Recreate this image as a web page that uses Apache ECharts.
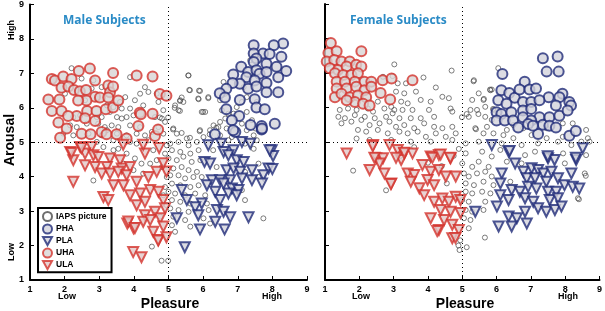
<!DOCTYPE html>
<html>
<head>
<meta charset="utf-8">
<script src="https://cdn.jsdelivr.net/npm/echarts@6/dist/echarts.min.js"></script>
<style>
  html, body { margin: 0; padding: 0; background: #fff; }
  #chart { width: 605px; height: 311px; }
</style>
</head>
<body>
<div id="chart"></div>
<script>
// [pleasure, arousal]
const maleIaps = [
  [2.20,7.15],[2.49,6.85],[2.83,6.80],[2.78,6.56],[3.07,6.60],[3.89,6.89],[4.32,6.60],[4.42,6.46],[4.66,6.41],
  [3.75,6.31],[4.03,6.22],[3.60,6.17],[4.18,6.41],[2.01,6.41],[2.59,6.22],[2.93,6.27],[3.22,6.07],[3.41,6.02],
  [3.65,5.98],[3.89,5.98],[4.27,6.07],[4.71,6.17],[4.85,5.93],[2.25,5.73],[2.45,5.78],[2.93,5.73],[3.07,5.73],
  [3.31,5.88],[3.51,5.73],[3.65,5.69],[3.79,5.73],[3.99,5.78],[4.61,5.73],[4.81,5.69],[2.16,5.49],[2.35,5.44],
  [2.64,5.54],[2.97,5.54],[3.16,5.44],[3.36,5.49],[3.55,5.44],[3.89,5.49],[4.18,5.44],[4.71,5.44],[4.90,5.59],
  [1.96,5.25],[2.25,5.20],[2.69,5.25],[3.07,5.20],[3.22,5.35],[3.51,5.25],[3.79,5.20],[4.08,5.25],[4.32,5.20],
  [4.52,5.30],[4.85,5.25],[2.93,5.01],[3.41,5.06],[3.89,5.01],[4.42,5.06],
  [5.58,6.94],[5.62,6.51],[5.91,6.49],[5.86,6.27],[6.15,6.31],[5.34,6.22],[5.43,6.17],[5.19,6.07],[5.29,5.93],
  [5.96,5.88],[6.06,5.88],[5.14,5.40],[5.24,5.25],[5.53,5.11],[5.91,5.35],[6.20,5.35],[6.44,5.44],[6.64,5.69],
  [6.73,5.83],[6.97,6.02],[7.12,6.17],[7.26,6.31],[7.36,7.38],[7.46,7.48],[7.17,6.60],[6.59,6.75],[6.64,6.41],
  [6.49,6.22],[6.54,5.93],[6.88,5.83],[7.26,5.88],[7.55,6.17],[7.41,5.64],[6.49,5.59],[6.30,5.49],[6.68,5.40],
  [7.12,5.54],[7.26,5.35],[7.51,5.40],[6.01,5.15],[6.49,5.20],[6.83,5.15],[7.46,5.20],[7.55,5.06],
  [5.05,4.96],[5.29,5.01],[5.58,4.91],[5.82,5.01],[5.10,4.77],[5.34,4.72],[5.63,4.67],[5.87,4.77],[5.00,4.53],
  [5.24,4.48],[5.43,4.58],[5.67,4.43],[5.92,4.48],[5.14,4.24],[5.38,4.28],[5.58,4.19],[5.82,4.14],[5.05,4.04],
  [5.29,4.04],[5.48,3.95],[5.72,3.99],[5.96,3.99],[5.10,3.80],[5.34,3.75],[5.63,3.70],[5.87,3.75],[5.00,3.56],
  [5.19,3.51],[5.48,3.46],[5.77,3.51],[6.06,3.46],[5.10,3.32],[5.34,3.27],[5.63,3.22],[6.11,3.22],[5.05,3.08],
  [5.29,3.03],[5.58,2.98],[6.16,3.03],[5.14,2.84],[5.48,2.74],[6.01,2.79],[5.10,2.59],[5.63,2.55],[6.20,2.64],
  [5.19,2.40],[7.74,2.79],[7.21,4.96],[7.46,4.81],[7.60,4.38],[6.73,5.06],[6.29,4.77],[6.39,4.28],[7.21,4.14],
  [7.60,3.99],[7.12,3.61],[7.21,3.32],
  [3.12,4.86],[3.41,4.77],[3.55,4.81],[3.79,4.67],[4.03,4.53],[4.22,4.38],[4.47,4.38],[4.66,4.48],[4.90,4.67],
  [4.81,4.28],[4.95,3.99],[4.90,3.70],[4.56,4.77],[4.08,4.96],[4.95,4.91],[3.70,4.38],[3.99,4.19],[4.27,4.09],
  [4.85,3.46],[4.95,3.17],[4.76,2.84],[4.52,1.97],[2.83,3.89],[4.80,1.56],[4.99,1.56],
  [5.18,6.00],[5.33,5.91],[5.57,6.94],[5.60,6.52],[5.88,6.50],[5.87,6.25],[6.15,6.28],[5.33,6.20],[5.38,6.30],
  [4.99,5.72],[4.75,5.72],[5.13,5.37],[5.38,5.27],[5.62,5.13],[6.00,5.88],[5.90,5.32],[6.19,5.23],[6.38,5.42]
];
const maleUha = [
  [1.63,6.84],[1.72,6.79],[1.96,6.91],[2.20,6.84],[2.41,7.07],[2.73,7.14],[3.40,7.01],[4.08,6.94],[4.54,6.91],
  [1.53,6.24],[1.85,6.24],[1.91,6.58],[2.11,6.62],[2.27,6.52],[2.44,6.48],[2.62,6.52],[2.88,6.79],[2.88,6.32],
  [3.02,6.30],[3.26,6.65],[3.31,6.45],[3.26,6.30],[3.40,6.62],[1.63,5.91],[1.91,5.91],[2.35,5.76],[2.65,5.91],
  [2.92,5.91],[3.19,5.96],[3.40,6.01],[3.55,6.21],[4.17,5.86],[4.54,5.83],[1.82,5.57],[2.06,5.40],[2.49,5.25],
  [2.75,5.23],[3.07,5.30],[3.21,5.23],[3.50,5.23],[3.79,5.11],[4.13,5.47],[4.20,5.81],[4.61,5.18],[4.70,5.37],
  [1.87,5.13],[4.75,6.40],[4.94,6.35],[2.88,5.62],[2.59,5.70],[2.63,6.21],[2.39,6.21],[2.10,5.76]
];
const maleUla = [
  [2.45,4.86],[2.78,4.86],[2.16,4.72],[2.59,4.67],[2.83,4.62],[2.25,4.48],[2.97,4.57],[3.31,4.53],[3.60,4.48],
  [4.32,4.67],[2.59,4.33],[2.88,4.28],[3.22,4.28],[3.65,4.24],[3.89,4.28],[3.07,4.09],[3.31,4.09],[3.55,4.14],
  [3.79,4.04],[2.25,3.85],[3.41,3.75],[3.70,3.75],[4.08,3.85],[4.42,3.99],[4.66,4.14],[3.89,3.46],[4.18,3.51],
  [4.47,3.61],[4.71,3.56],[3.12,3.41],[3.26,3.32],[4.08,3.17],[4.32,3.27],[4.85,3.32],[4.32,2.88],[4.61,2.98],
  [4.90,3.08],[4.27,2.69],[4.47,2.74],[4.76,2.79],[4.85,2.55],[4.56,2.40],[4.71,2.16],[3.81,2.64],[3.99,2.50],
  [3.98,1.81],[4.22,1.66],[4.70,2.15],[4.94,2.24],[4.94,4.15],[4.85,4.39],[3.84,2.70],[4.03,2.51],
  [2.20,4.69],[2.49,4.83],[3.69,4.93],[4.27,4.93],[4.73,4.83]
];
const malePha = [
  [7.46,7.82],[8.31,7.87],[8.04,7.82],[7.73,7.58],[7.92,7.56],[7.46,7.58],[7.54,7.43],[7.83,7.28],[8.26,7.48],
  [7.46,7.33],[8.12,7.19],[8.40,7.07],[7.10,7.19],[6.87,6.97],[7.30,7.04],[7.54,7.09],[7.63,6.99],[7.83,7.04],
  [8.17,6.89],[7.25,6.89],[7.49,6.79],[7.06,6.70],[6.85,6.72],[7.30,6.55],[7.54,6.62],[7.83,6.72],[6.67,6.55],
  [6.48,6.42],[7.83,6.45],[8.17,6.45],[7.06,6.23],[6.63,6.30],[7.49,6.25],[6.67,5.96],[7.04,5.76],[7.54,6.01],
  [7.78,5.96],[6.83,5.64],[7.37,5.50],[7.69,5.47],[7.69,5.37],[8.07,5.54],[6.93,5.30],[6.34,5.23],[6.87,5.35],
  [7.70,5.40]
];
const malePla = [
  [6.15,4.91],[6.52,4.96],[7.12,5.01],[7.36,4.96],[6.59,4.72],[6.88,4.77],[6.73,4.62],[6.04,4.43],[6.20,4.38],
  [6.97,4.48],[7.17,4.43],[7.98,4.77],[7.89,4.24],[7.74,4.04],[6.68,4.19],[6.88,4.24],[7.07,4.14],[7.41,4.19],
  [6.25,3.90],[6.49,3.90],[6.78,3.90],[7.12,3.95],[7.41,3.90],[7.70,3.80],[6.11,3.75],[6.59,3.80],[6.83,3.66],
  [7.02,3.61],[6.35,3.56],[6.73,3.51],[5.38,3.61],[5.53,3.32],[6.97,3.46],[6.49,3.32],[5.96,3.22],[5.77,3.11],
  [6.40,3.03],[6.59,2.98],[5.86,2.88],[6.78,2.82],[5.24,2.79],[7.31,2.82],[6.35,2.69],[5.91,2.47],[6.62,2.47],
  [5.47,1.95],[8.00,4.22],[8.02,4.60],[7.92,4.77]
];

const femaleIaps = [
  [3.02,7.25],[4.69,7.07],[2.69,6.89],[2.97,6.91],[3.87,6.87],[4.23,6.58],[3.12,6.70],[3.36,6.70],[3.31,6.41],
  [3.07,6.46],[3.65,6.46],[3.79,6.22],[3.22,6.17],[3.41,6.12],[2.93,6.02],[4.08,6.17],[4.42,6.31],[4.61,6.27],
  [2.54,6.17],[2.73,5.97],[3.02,5.93],[3.26,5.93],[3.55,5.93],[4.03,5.93],[4.66,5.97],[1.43,5.93],[1.67,5.97],
  [1.92,5.93],[2.25,5.97],[2.40,5.88],[1.39,5.73],[1.58,5.69],[1.87,5.78],[2.16,5.73],[2.45,5.69],[2.78,5.73],
  [2.97,5.83],[3.17,5.69],[3.50,5.69],[3.79,5.69],[4.18,5.73],[4.71,5.88],[1.48,5.54],[1.77,5.59],[2.06,5.64],
  [2.30,5.49],[2.59,5.54],[2.88,5.59],[3.07,5.44],[3.31,5.49],[3.60,5.40],[3.89,5.54],[4.18,5.44],[4.42,5.40],
  [4.71,5.44],[1.96,5.35],[2.20,5.30],[2.54,5.35],[2.83,5.25],[3.17,5.30],[3.41,5.25],[3.70,5.30],[3.94,5.15],
  [4.23,5.25],[4.52,5.15],[4.81,5.25],[1.92,5.10],[2.30,5.06],[2.93,5.06],[3.50,5.01],[4.08,5.01],[4.71,5.06],
  [4.99,5.72],[5.13,5.81],[5.33,6.76],[5.63,6.25],[5.40,5.37],[5.86,6.52],[6.05,7.14],[5.81,6.52],[5.47,5.81],
  [5.90,5.96],
  [5.34,6.79],[5.82,6.50],[5.48,6.41],[5.29,6.22],[5.62,6.22],[5.24,5.93],[5.43,5.93],[5.67,6.02],[5.91,5.93],
  [5.19,5.73],[5.67,5.73],[5.86,5.64],[5.38,5.40],[5.72,5.44],[5.62,5.25],[5.91,5.25],[6.30,5.35],[6.49,5.49],
  [6.78,5.40],[7.46,5.40],[7.93,5.54],[8.22,5.54],[8.61,5.35],[8.66,5.11],[8.47,5.01],[7.93,5.15],[7.46,5.11],
  [6.20,5.20],[6.49,5.11],[7.02,5.20],
  [5.10,4.96],[5.48,5.01],[6.15,4.96],[6.73,4.91],[7.21,4.96],[7.79,5.01],[8.18,4.91],[8.71,5.01],[5.10,4.67],
  [5.58,4.72],[5.86,4.58],[6.11,4.77],[6.83,4.62],[7.12,4.72],[7.94,4.67],[8.61,4.62],[5.00,4.38],[5.29,4.28],
  [5.48,4.43],[5.77,4.28],[6.30,4.43],[6.73,4.38],[7.99,4.38],[8.57,4.09],[5.05,4.09],[5.19,4.00],[5.43,4.09],
  [5.67,4.14],[5.86,4.00],[5.10,3.80],[5.34,3.75],[5.62,3.85],[5.91,3.75],[6.40,3.85],[5.10,3.56],[5.29,3.51],
  [5.58,3.56],[5.82,3.51],[5.00,3.32],[5.19,3.27],[5.67,3.27],[5.10,3.03],[5.29,2.98],[5.62,3.03],[5.05,2.79],
  [5.24,2.74],[5.19,2.50],[8.37,3.37],
  [1.82,4.17],[2.78,3.60],[5.66,2.23],[4.94,2.15],[4.89,2.00],[4.92,1.87],[5.13,1.95],[8.40,3.34],[8.60,4.02],
  [3.20,4.60],[3.60,4.85],[4.00,4.40],[4.40,4.30],[4.55,3.80],[4.90,4.80],[4.75,4.60]
];
const femaleUha = [
  [1.17,7.87],[1.10,7.58],[1.34,7.63],[2.06,7.63],[1.05,7.33],[1.27,7.38],[1.48,7.33],[1.72,7.33],[1.14,7.14],
  [1.38,7.09],[1.63,7.19],[1.91,7.24],[2.06,7.19],[1.29,6.99],[1.53,6.94],[1.77,6.94],[1.96,6.99],[1.34,6.75],
  [1.58,6.75],[1.87,6.75],[2.15,6.75],[2.35,6.75],[2.68,6.79],[2.94,6.84],[3.55,6.79],[1.34,6.55],[1.63,6.55],
  [1.91,6.60],[2.15,6.50],[2.35,6.60],[2.62,6.42],[1.29,6.30],[1.48,6.40],[1.72,6.30],[1.96,6.35],[2.20,6.30],
  [2.90,6.23],[1.87,6.16],[2.11,6.11],[2.30,6.06],[1.63,6.21]
];
const femaleUla = [
  [1.63,4.67],[2.40,4.91],[2.88,4.91],[2.30,4.19],[2.49,4.53],[2.69,4.53],[2.73,4.09],[2.93,3.80],[2.59,4.38],
  [3.12,4.77],[3.31,4.67],[3.55,4.67],[3.22,4.48],[3.41,4.09],[3.60,4.04],[3.50,3.85],[3.75,3.66],[3.84,4.33],
  [4.08,4.58],[4.32,4.62],[4.66,4.53],[4.08,4.14],[4.32,4.19],[4.52,4.00],[4.81,4.00],[3.99,3.90],[4.18,3.75],
  [3.89,3.46],[4.18,3.27],[4.42,3.36],[4.61,3.27],[4.81,3.41],[4.95,3.32],[4.08,2.79],[4.47,2.74],[4.71,2.60],
  [4.32,2.45],[4.71,2.21],[4.90,2.45],[4.95,2.94],[4.66,2.98],[4.37,3.03],
  [2.39,4.88],[3.31,4.69],[4.13,4.54],[4.37,4.64],[4.65,4.54],[2.44,4.54],[3.07,4.54],[2.92,3.78],[4.27,2.42],
  [4.80,2.22]
];
const femalePha = [
  [6.17,6.97],[7.35,7.43],[7.78,7.48],[7.46,7.04],[7.81,7.04],[6.14,6.50],[6.37,6.42],[6.53,6.28],[6.82,6.75],
  [6.67,6.52],[6.96,6.52],[7.15,6.55],[7.52,6.30],[7.92,6.40],[7.83,6.30],[6.05,6.21],[6.29,6.11],[6.77,6.16],
  [7.01,6.16],[7.25,6.21],[7.73,6.06],[8.12,6.16],[8.17,6.06],[6.00,5.86],[6.14,5.81],[6.43,5.86],[6.77,5.91],
  [7.01,5.96],[7.25,5.72],[6.00,5.62],[6.24,5.62],[6.48,5.62],[6.77,5.72],[7.01,5.62],[7.35,5.50],[7.54,5.72],
  [7.83,5.76],[8.07,5.91],[7.54,5.47],[7.73,5.42],[6.63,5.42],[6.92,5.52],[7.21,5.23],[8.12,5.18],[8.31,5.32],
  [7.06,5.47]
];
const femalePla = [
  [5.86,4.91],[6.35,4.72],[6.54,4.38],[7.50,4.53],[7.69,4.48],[8.32,4.48],[8.51,4.82],[6.78,4.14],[7.02,4.24],
  [7.21,4.19],[7.36,4.09],[7.60,4.14],[8.18,4.09],[6.15,4.09],[6.11,3.80],[6.88,3.95],[7.12,3.95],[7.45,3.85],
  [7.79,3.95],[7.98,3.75],[8.22,3.70],[8.41,3.65],[6.44,3.61],[6.68,3.56],[6.92,3.70],[7.16,3.65],[7.50,3.56],
  [7.74,3.56],[6.11,3.46],[6.35,3.32],[6.83,3.37],[7.07,3.27],[7.55,3.32],[7.79,3.37],[7.21,3.08],[7.45,2.98],
  [7.70,3.03],[7.89,3.13],[6.01,3.13],[5.38,2.98],[6.83,2.98],[6.35,2.84],[6.59,2.79],[6.88,2.64],[6.06,2.55],
  [6.44,2.55],[6.38,4.74],[7.49,4.59],[8.31,4.54]
];

const axisTicks = [1, 2, 3, 4, 5, 6, 7, 8, 9];

const RED = '#d3322c';
const NAVY = '#1f2a78';
const DOWN_TRIANGLE = 'path://M0,0 L10,0 L5,9 Z';
const tickFont = { color: '#000', fontFamily: 'Liberation Sans', fontWeight: 'bold', fontSize: 9 };

var dom = document.getElementById('chart');
var myChart = echarts.init(dom, null, { renderer: 'canvas' });

function makeAxis(gridIndex, showLabel, margin) {
    return {
        type: 'value',
        gridIndex: gridIndex,
        min: axisTicks[0],
        max: axisTicks[axisTicks.length - 1],
        interval: 1,
        splitLine: { show: false },
        axisLine: { show: true, onZero: false, lineStyle: { color: '#000', width: 2 } },
        axisTick: { show: true, inside: true, length: 4, lineStyle: { color: '#000', width: 1 } },
        axisLabel: Object.assign({ show: showLabel, margin: margin }, tickFont)
    };
}

function guideLines() {
    return {
        silent: true,
        symbol: 'none',
        label: { show: false },
        lineStyle: { color: '#000', type: [1, 3], width: 1 },
        data: [{ xAxis: 5 }, { yAxis: 5 }]
    };
}

function panel(idx, iaps, pha, pla, uha, ula) {
    return [
        {
            name: 'IAPS picture', type: 'scatter', xAxisIndex: idx, yAxisIndex: idx,
            symbol: 'circle', symbolSize: 5,
            itemStyle: { color: 'rgba(255,255,255,0)', borderColor: '#4a4a4a', borderWidth: 0.9 },
            data: iaps,
            markLine: guideLines()
        },
        {
            name: 'PHA', type: 'scatter', xAxisIndex: idx, yAxisIndex: idx,
            symbol: 'circle', symbolSize: 10,
            itemStyle: { color: '#d3d3dc', borderColor: NAVY, borderWidth: 2 },
            data: pha
        },
        {
            name: 'PLA', type: 'scatter', xAxisIndex: idx, yAxisIndex: idx,
            symbol: 'triangle', symbolRotate: 180, symbolSize: 10,
            itemStyle: { color: '#d3d3dc', borderColor: NAVY, borderWidth: 2 },
            data: pla
        },
        {
            name: 'UHA', type: 'scatter', xAxisIndex: idx, yAxisIndex: idx,
            symbol: 'circle', symbolSize: 10,
            itemStyle: { color: '#d8d4d4', borderColor: RED, borderWidth: 2 },
            data: uha
        },
        {
            name: 'ULA', type: 'scatter', xAxisIndex: idx, yAxisIndex: idx,
            symbol: 'triangle', symbolRotate: 180, symbolSize: 10,
            itemStyle: { color: '#e2c8c8', borderColor: RED, borderWidth: 2 },
            data: ula
        }
    ];
}

const boldText = { fill: '#000', fontFamily: 'Liberation Sans', fontWeight: 'bold' };

const option = {
    animation: false,
    backgroundColor: '#fff',
    title: [
        { text: 'Male Subjects', left: 58, top: 10,
          textStyle: { color: '#2a8bc6', fontFamily: 'Open Sans', fontWeight: 'bold', fontSize: 12 } },
        { text: 'Female Subjects', left: 345, top: 10,
          textStyle: { color: '#2a8bc6', fontFamily: 'Open Sans', fontWeight: 'bold', fontSize: 12 } }
    ],
    legend: {
        left: 38, top: 208,
        orient: 'vertical',
        borderColor: '#000', borderWidth: 2,
        padding: [3, 5, 2, 4],
        itemGap: 1.5, itemWidth: 9, itemHeight: 9,
        textStyle: { color: '#000', fontFamily: 'Liberation Sans', fontWeight: 'bold', fontSize: 8.5, lineHeight: 9, padding: [0, 0, 0, -1] },
        data: [
            { name: 'IAPS picture', icon: 'circle' },
            { name: 'PHA', icon: 'circle' },
            { name: 'PLA', icon: DOWN_TRIANGLE },
            { name: 'UHA', icon: 'circle' },
            { name: 'ULA', icon: DOWN_TRIANGLE }
        ]
    },
    grid: [
        { left: 30, top: 4, width: 277, height: 276 },
        { left: 325, top: 4, width: 277, height: 276 }
    ],
    xAxis: [makeAxis(0, true, 5), makeAxis(1, true, 5)],
    yAxis: [makeAxis(0, true, 6), makeAxis(1, false, 6)],
    series: panel(0, maleIaps, malePha, malePla, maleUha, maleUla)
        .concat(panel(1, femaleIaps, femalePha, femalePla, femaleUha, femaleUla)),
    graphic: [
        { type: 'text', x: 10, y: 140, rotation: Math.PI / 2, style: Object.assign({ text: 'Arousal', fontSize: 14, align: 'center', verticalAlign: 'middle' }, boldText) },
        { type: 'text', x: 12, y: 30, rotation: Math.PI / 2, style: Object.assign({ text: 'High', fontSize: 9, align: 'center', verticalAlign: 'middle' }, boldText) },
        { type: 'text', x: 12, y: 252, rotation: Math.PI / 2, style: Object.assign({ text: 'Low', fontSize: 9, align: 'center', verticalAlign: 'middle' }, boldText) },
        { type: 'text', x: 67, y: 297, style: Object.assign({ text: 'Low', fontSize: 9, align: 'center', verticalAlign: 'middle' }, boldText) },
        { type: 'text', x: 272, y: 297, style: Object.assign({ text: 'High', fontSize: 9, align: 'center', verticalAlign: 'middle' }, boldText) },
        { type: 'text', x: 170, y: 304, style: Object.assign({ text: 'Pleasure', fontSize: 14, align: 'center', verticalAlign: 'middle' }, boldText) },
        { type: 'text', x: 361, y: 297, style: Object.assign({ text: 'Low', fontSize: 9, align: 'center', verticalAlign: 'middle' }, boldText) },
        { type: 'text', x: 568, y: 297, style: Object.assign({ text: 'High', fontSize: 9, align: 'center', verticalAlign: 'middle' }, boldText) },
        { type: 'text', x: 465, y: 304, style: Object.assign({ text: 'Pleasure', fontSize: 14, align: 'center', verticalAlign: 'middle' }, boldText) }
    ]
};

myChart.setOption(option);
</script>
</body>
</html>
